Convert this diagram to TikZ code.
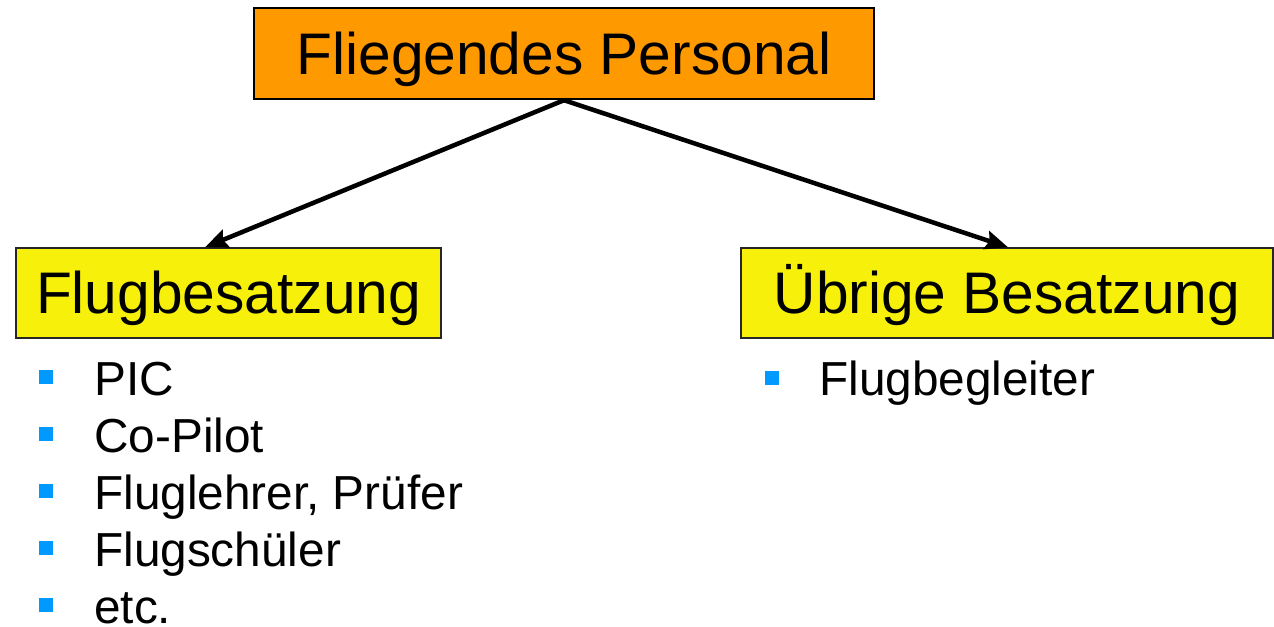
\documentclass[tikz,border=0pt]{standalone}
\usepackage{fontspec}
\setmainfont{Liberation Sans}
\usetikzlibrary{arrows.meta}
\definecolor{headorange}{RGB}{255,153,0}
\definecolor{groupyellow}{RGB}{247,240,10}
\definecolor{bulletblue}{RGB}{0,153,255}
\begin{document}
\begin{tikzpicture}[x=0.75pt,y=-0.75pt,
  headbox/.style={draw=black,line width=1.8pt,fill=headorange,inner sep=0pt,
    minimum width=620*0.75pt,minimum height=91*0.75pt,
    font=\fontsize{44}{48}\selectfont,text height=31.5pt,text depth=0pt},
  groupbox/.style={draw=black!85,line width=1.1pt,fill=groupyellow,inner sep=0pt,
    minimum height=90*0.75pt,
    font=\fontsize{44}{48}\selectfont,text height=31.5pt,text depth=0pt},
  item/.style={anchor=base west,inner sep=0pt,font=\fontsize{35.8}{40}\selectfont},
  bullet/.style={fill=bulletblue,inner sep=0pt,minimum size=14*0.75pt},
  link/.style={line width=3.4pt,-{Stealth[length=17pt,width=14pt,inset=2.5pt]}}]
\useasboundingbox (0,0) rectangle (1274,627);

% top-level box
\node[headbox] (fp) at (564,53.5) {Fliegendes Personal};

% the two groups
\node[groupbox,minimum width=425*0.75pt] (fb) at (228.5,293) {Flugbesatzung};
\node[groupbox,minimum width=532*0.75pt] (ub) at (1007,293) {Übrige Besatzung};

% connectors
\draw[link] (fp.south) -- ([xshift=-23.5*0.75pt]fb.north);
\draw[link] (fp.south) -- ([xshift=1*0.75pt]ub.north);

% list under Flugbesatzung
\node[bullet] (b1) at (46,377) {};
\node[bullet] (b2) at (46,434) {};
\node[bullet] (b3) at (46,491) {};
\node[bullet] (b4) at (46,548) {};
\node[bullet] (b5) at (46,605) {};
\node[item] (i1) at (94,395) {PIC};
\node[item] (i2) at (94,452) {Co-Pilot};
\node[item] (i3) at (94,509) {Fluglehrer, Prüfer};
\node[item] (i4) at (94,566) {Flugschüler};
\node[item] (i5) at (94,623) {etc.};

% list under Übrige Besatzung
\node[bullet] (c1) at (772,378) {};
\node[item] (j1) at (819,395) {Flugbegleiter};
\end{tikzpicture}
\end{document}
